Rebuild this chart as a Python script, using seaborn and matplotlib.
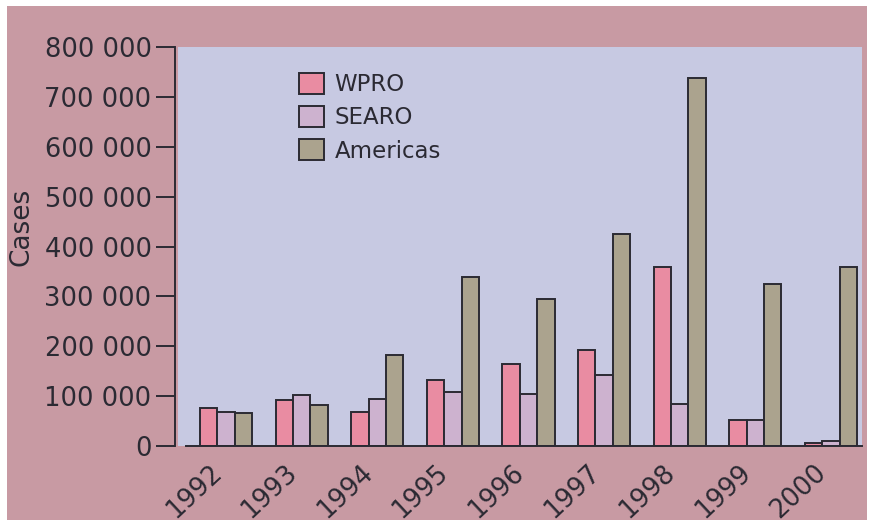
import pandas as pd
import matplotlib
matplotlib.use("Agg")
import matplotlib.pyplot as plt
from matplotlib.patches import Rectangle
from matplotlib.transforms import ScaledTranslation
import seaborn as sns

# values
years = ["1992", "1993", "1994", "1995", "1996", "1997", "1998", "1999", "2000"]
wpro = [77000, 91500, 68000, 131500, 165000, 192000, 358000, 52000, 6000]
searo = [67500, 102000, 93500, 109000, 104000, 142000, 84000, 53000, 11000]
americas = [65500, 82000, 182000, 338000, 295000, 425000, 738000, 325000, 358000]
regions = ["WPRO", "SEARO", "Americas"]
colors = ["#e98ca2", "#cdb2cf", "#aba38e"]
yticks = [0, 100000, 200000, 300000, 400000, 500000, 600000, 700000, 800000]

df = pd.DataFrame({
    "Year": years * 3,
    "Region": ["WPRO"] * 9 + ["SEARO"] * 9 + ["Americas"] * 9,
    "Cases": wpro + searo + americas,
})

sns.set_style("ticks")
plt.rcParams["font.family"] = ["DejaVu Sans"]
ink = "#2b2a33"

W, H = 872, 524
fig = plt.figure(figsize=(W / 100, H / 100), dpi=100, facecolor="white")
# pink card behind the chart
fig.patches.append(Rectangle((7 / W, 1 - 520 / H), 860 / W, 514 / H,
                             transform=fig.transFigure, facecolor="#c89aa3",
                             edgecolor="none", zorder=-5))
ax = fig.add_axes([178 / W, 1 - 446 / H, 684 / W, 399 / H])
ax.set_facecolor("#c7c9e2")

sns.barplot(data=df, x="Year", y="Cases", hue="Region", hue_order=regions,
            palette=colors, width=0.69, edgecolor=ink, linewidth=1.4,
            saturation=1, ax=ax)

ax.set_xlim(-0.635, 8.41)
ax.set_ylim(0, 800000)
ax.set_yticks(yticks)
ax.set_yticklabels([f"{v:,}".replace(",", " ") for v in yticks])

for s in ["top", "right"]:
    ax.spines[s].set_visible(False)
ax.spines["left"].set_color(ink)
ax.spines["left"].set_linewidth(1.4)
ax.spines["left"].set_position(("outward", 2))
ax.spines["bottom"].set_color(ink)
ax.spines["bottom"].set_linewidth(1.4)
ax.spines["bottom"].set_bounds(-0.53, 8.41)

ax.tick_params(axis="y", length=14, width=1.4, color=ink, pad=3,
               labelsize=18.5, labelcolor=ink)
ax.tick_params(axis="x", length=0, pad=10, labelsize=18.5, labelcolor=ink)
shift = ScaledTranslation(-17 / 100, 0, fig.dpi_scale_trans)
for lab in ax.get_xticklabels():
    lab.set_rotation(43)
    lab.set_ha("right")
    lab.set_va("top")
    lab.set_rotation_mode("anchor")
    lab.set_transform(lab.get_transform() + shift)

ax.set_xlabel("")
ax.set_ylabel("Cases", fontsize=19, color=ink)
ax.yaxis.set_label_coords(-0.21, 0.55)

leg = ax.legend(loc="upper left", bbox_to_anchor=(0.177, 0.935), frameon=False,
                fontsize=16.5, borderpad=0, borderaxespad=0, handlelength=1.1,
                handleheight=1.05, handletextpad=0.45, labelspacing=0.42)
for t in leg.get_texts():
    t.set_color(ink)

fig.savefig("out.png", dpi=100, facecolor=fig.get_facecolor())
